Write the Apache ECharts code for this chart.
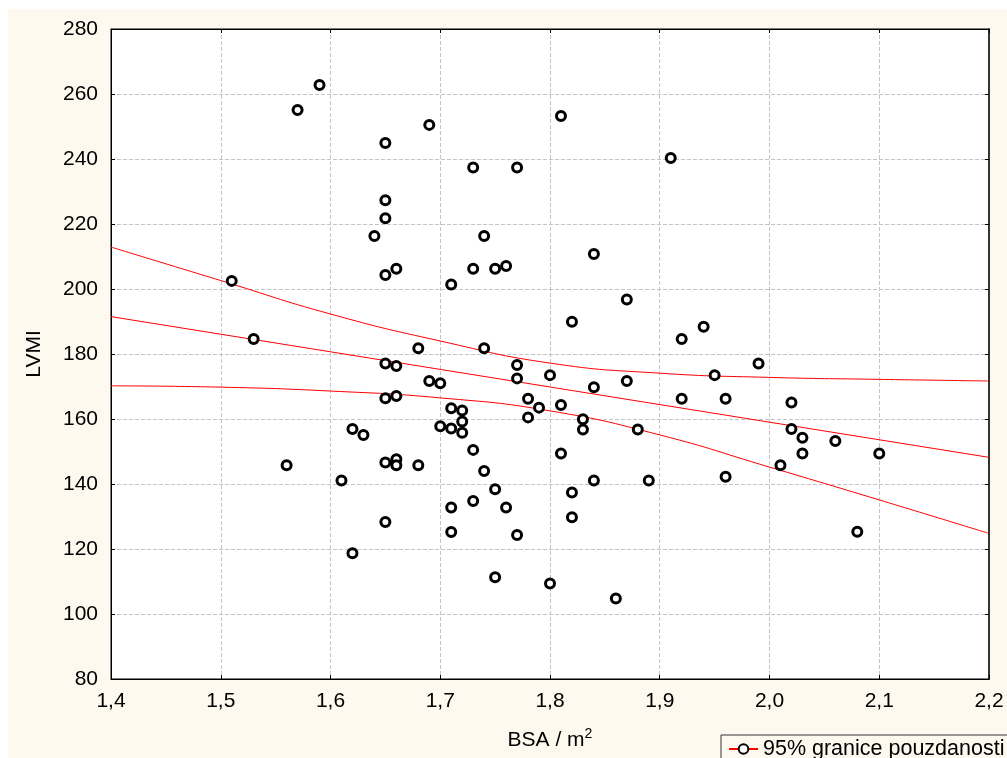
<!DOCTYPE html>
<html>
<head>
<meta charset="utf-8">
<script src="https://cdn.jsdelivr.net/npm/echarts@6/dist/echarts.min.js"></script>
<style>
html,body{margin:0;padding:0;background:#ffffff;}
#chart{position:absolute;left:8px;top:9px;width:999px;height:749px;}
</style>
</head>
<body>
<div id="chart"></div>
<script>
// BSA (m2) values of the scatter points
const bsa = [1.51,1.53,1.56,1.57,1.59,1.69,1.65,1.73,1.65,1.65,1.64,1.74,1.66,1.65,1.73,1.75,1.71,
  1.81,1.77,1.91,1.84,1.76,1.87,
  1.68,1.74,1.65,1.66,1.77,1.77,1.80,1.69,1.70,1.65,1.66,1.78,1.79,1.78,1.71,1.72,1.72,1.70,1.71,1.72,
  1.62,1.63,1.73,1.65,1.66,1.66,1.68,1.61,1.74,1.75,1.73,1.71,1.76,1.65,1.71,1.77,1.62,1.75,1.80,
  1.82,1.92,1.94,1.84,1.87,1.95,1.92,1.96,1.81,1.83,1.83,1.88,1.81,1.84,1.89,1.96,1.82,1.82,1.86,
  1.99,2.02,2.02,2.03,2.03,2.06,2.10,2.01,2.08];
// LVMI values of the scatter points
const lvmi = [202.5,184.6,145.8,255.1,262.8,250.5,244.9,237.4,227.3,221.8,216.3,216.3,206.2,204.3,206.2,206.2,201.4,
  253.2,237.4,240.3,210.8,207.1,196.8,
  181.8,181.8,177.1,176.3,176.6,172.5,173.5,171.7,171.0,166.4,167.1,166.2,163.5,160.5,163.3,162.6,159.2,157.8,157.1,155.8,
  156.9,155.1,150.5,146.6,147.6,145.8,145.8,141.1,144.0,138.4,134.8,132.8,132.8,128.3,125.2,124.3,118.7,111.3,109.4,
  189.9,184.6,188.4,169.8,171.7,173.5,166.2,166.2,164.3,159.9,156.8,156.8,149.4,141.1,141.1,142.2,137.4,129.8,104.8,
  177.1,165.1,156.9,154.2,149.4,153.2,149.4,145.8,125.3];
// regression line (end points)
const regX = [1.4, 2.2];
const regY = [191.5, 148.2];
// 95% confidence band, read at sample x positions
const bandX = [1.4,1.5,1.6,1.7,1.8,1.9,2.0,2.1,2.2];
const bandUpper = [212.9,202.6,192.3,184.0,177.2,174.1,172.8,172.2,171.7];
const bandLower = [170.2,169.8,168.6,166.5,162.5,155.1,145.2,135.1,124.8];
// tick labels
const xTickLabels = ['1,4','1,5','1,6','1,7','1,8','1,9','2,0','2,1','2,2'];
const yTickLabels = ['80','100','120','140','160','180','200','220','240','260','280'];
const legendLabel = '95% granice pouzdanosti';

const FONT = 'Liberation Sans, Arial, sans-serif';
const zip = (a, b) => a.map((v, i) => [v, b[i]]);

const chart = echarts.init(document.getElementById('chart'), null, {renderer: 'canvas'});
const option = {
  backgroundColor: '#fdf9ee',
  animation: false,
  grid: {left: 103, top: 20, right: 18, bottom: 79, show: true, backgroundColor: '#ffffff', borderColor: '#000', borderWidth: 1},
  legend: {
    data: [legendLabel],
    left: 713, top: 726,
    padding: [3, 30, 6, 7],
    borderColor: '#333', borderWidth: 1,
    itemWidth: 29, itemHeight: 12,
    textStyle: {fontFamily: FONT, fontSize: 21.5, color: '#000'},
    itemStyle: {color: '#fff', borderColor: '#000', borderWidth: 2},
    selectedMode: false
  },
  xAxis: [{
    type: 'value', min: 1.4, max: 2.2, interval: 0.1,
    name: '{a|BSA / m}{s|2}', nameLocation: 'middle', nameGap: 48,
    nameTextStyle: {fontFamily: FONT, fontSize: 21, color: '#000',
      rich: {a: {fontFamily: FONT, fontSize: 21, color: '#000'}, s: {fontFamily: FONT, fontSize: 14, color: '#000', padding: [0, 0, 12, 0]}}},
    axisLine: {show: true, lineStyle: {color: '#000', width: 1}},
    axisTick: {show: true, inside: true, length: 4, lineStyle: {color: '#000'}},
    axisLabel: {fontFamily: FONT, fontSize: 21, color: '#000', margin: 12,
      formatter: v => xTickLabels[Math.round((v - 1.4) * 10)]},
    splitLine: {show: true, lineStyle: {color: '#c4c4c4', type: [4, 2], width: 1}}
  }, {
    type: 'value', min: 1.4, max: 2.2, interval: 0.1, position: 'top',
    axisLine: {show: true, lineStyle: {color: '#000'}},
    axisTick: {show: true, inside: true, length: 4, lineStyle: {color: '#000'}},
    axisLabel: {show: false}, splitLine: {show: false}
  }],
  yAxis: [{
    type: 'value', min: 80, max: 280, interval: 20,
    name: 'LVMI', nameLocation: 'middle', nameGap: 66, nameRotate: 90,
    nameTextStyle: {fontFamily: FONT, fontSize: 21, color: '#000'},
    axisLine: {show: true, lineStyle: {color: '#000', width: 1}},
    axisTick: {show: true, inside: true, length: 4, lineStyle: {color: '#000'}},
    axisLabel: {fontFamily: FONT, fontSize: 21, color: '#000', margin: 13,
      formatter: v => yTickLabels[Math.round((v - 80) / 20)]},
    splitLine: {show: true, lineStyle: {color: '#c4c4c4', type: [4, 2], width: 1}}
  }, {
    type: 'value', min: 80, max: 280, interval: 20, position: 'right',
    axisLine: {show: true, lineStyle: {color: '#333', width: 2}},
    axisTick: {show: true, inside: true, length: 4, lineStyle: {color: '#000'}},
    axisLabel: {show: false}, splitLine: {show: false}
  }],
  series: [
    {
      name: 'regresija', type: 'line', data: zip(regX, regY),
      showSymbol: false, symbol: 'none', lineStyle: {color: '#ff0000', width: 1}, z: 3
    },
    {
      name: legendLabel, type: 'line', data: zip(bandX, bandUpper), smooth: true,
      symbol: 'circle', symbolSize: 8, showSymbol: false,
      itemStyle: {color: '#fff', borderColor: '#000', borderWidth: 2},
      lineStyle: {color: '#ff0000', width: 1}, z: 3
    },
    {
      name: legendLabel, type: 'line', data: zip(bandX, bandLower), smooth: true,
      symbol: 'circle', symbolSize: 8, showSymbol: false,
      itemStyle: {color: '#fff', borderColor: '#000', borderWidth: 2},
      lineStyle: {color: '#ff0000', width: 1}, z: 3
    },
    {
      name: 'LVMI', type: 'scatter', data: zip(bsa, lvmi),
      symbol: 'circle', symbolSize: 9,
      itemStyle: {color: '#ffffff', borderColor: '#000000', borderWidth: 3, opacity: 1},
      z: 4
    }
  ]
};
chart.setOption(option);
</script>
</body>
</html>
